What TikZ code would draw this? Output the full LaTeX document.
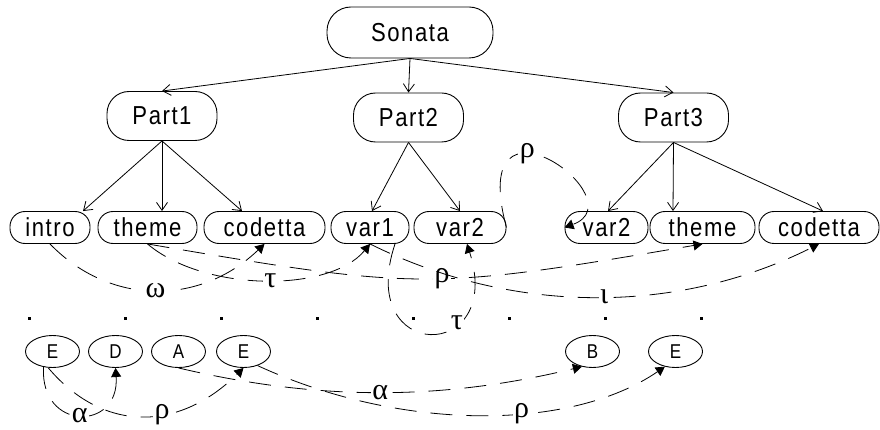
\documentclass[tikz,border=0pt]{standalone}
\usepackage{fontspec}
\setmainfont{Liberation Sans}[FakeStretch=0.85,LetterSpace=6]
\newfontfamily\greekfont{Liberation Serif}
\usetikzlibrary{arrows.meta,shapes.geometric}

\begin{document}
\begin{tikzpicture}[x=1pt,y=-1pt,
  every node/.style={inner sep=0pt},
  pillbox/.style={draw,rectangle,line width=0.9pt,font=\fontsize{26}{30}\selectfont},
  topbox/.style={pillbox,minimum width=166pt,minimum height=51pt,rounded corners=24pt},
  partbox/.style={pillbox,minimum width=110pt,minimum height=49pt,rounded corners=22pt},
  leafbox/.style={pillbox,minimum height=32pt,rounded corners=15pt,minimum width=#1},
  notebox/.style={draw,ellipse,line width=0.9pt,minimum width=54pt,minimum height=32pt,
    font=\fontsize{20}{22}\selectfont},
  treearrow/.style={line width=0.8pt,-{Straight Barb[length=8pt,width=11pt]}},
  rel/.style={line width=0.8pt,dash pattern=on 22pt off 14pt,
    -{Triangle[length=9pt,width=10pt]}},
  lbl/.style={fill=white,inner sep=1.5pt,font=\greekfont\fontsize{30}{32}\selectfont}]

\useasboundingbox (0,0) rectangle (880,430);

% hierarchy
\node[topbox] (sonata) at (410,32.5) {Sonata};
\node[partbox] (part1) at (162,116) {Part1};
\node[partbox] (part2) at (408.5,117.5) {Part2};
\node[partbox] (part3) at (673.5,117.5) {Part3};

\node[leafbox=80pt]  (intro)    at (50,227.5)  {intro};
\node[leafbox=99pt]  (theme1)   at (147.5,227.5) {theme};
\node[leafbox=121pt] (codetta1) at (264.5,227.5) {codetta};
\node[leafbox=78pt]  (var1)     at (370,227.5) {var1};
\node[leafbox=92pt]  (var2a)    at (460,227.5) {var2};
\node[leafbox=83pt]  (var2b)    at (606.5,227.5) {var2};
\node[leafbox=105pt] (theme2)   at (702.5,227.5) {theme};
\node[leafbox=120pt] (codetta3) at (819,227.5) {codetta};

\draw[treearrow] (sonata.south) -- (part1.north);
\draw[treearrow] (sonata.south) -- (part2.north);
\draw[treearrow] (sonata.south) -- (part3.north);

\draw[treearrow] (part1.south) -- ([xshift=33pt]intro.north);
\draw[treearrow] (part1.south) -- ([xshift=14.5pt]theme1.north);
\draw[treearrow] (part1.south) -- ([xshift=-22.5pt]codetta1.north);
\draw[treearrow] (part2.south) -- ([xshift=2pt]var1.north);
\draw[treearrow] (part2.south) -- (var2a.north);
\draw[treearrow] (part3.south) -- ([xshift=1.5pt]var2b.north);
\draw[treearrow] (part3.south) -- ([xshift=-29.5pt]theme2.north);
\draw[treearrow] (part3.south) -- ([xshift=4pt]codetta3.north);

% relations between the parts
\draw[rel] (intro.south) .. controls +(60,62) and +(-65,62) .. (codetta1.south)
  node[lbl,pos=.5] {ω};
\draw[rel] (theme1.south) .. controls +(57.5,48.5) and +(-40,48.5) .. (var1.south)
  node[lbl,pos=.52] {τ};
\draw[rel] (theme1.south) .. controls +(272.5,46.5) and +(-272.5,46.5) .. (theme2.south)
  node[lbl,pos=.54] {ρ};
\draw[rel] (var1.south) .. controls +(143,71) and +(-142,71) .. (codetta3.south)
  node[lbl,pos=.52] {ι};
\draw[rel] ([xshift=25pt]var1.south) .. controls +(-40,119.5) and +(38,119.5) .. ([xshift=7pt]var2a.south)
  node[lbl,pos=.67] {τ};
\draw[rel] (var2a.east) .. controls +(-41,-152.5) and +(75,-27.5) .. (var2b.west)
  node[lbl,pos=.38] {ρ};

% time grid
\foreach \i in {0,...,7}
  \fill ({28+96*\i},316.5) rectangle +(3,3);

% notes
\node[notebox] (e1) at (52.5,351.5) {E};
\node[notebox] (d)  at (115.5,351.5) {D};
\node[notebox] (a)  at (178.5,351.5) {A};
\node[notebox] (e2) at (243.5,351.5) {E};
\node[notebox] (b)  at (592.5,351.5) {B};
\node[notebox] (e3) at (675.5,351.5) {E};

\draw[rel] (e1.240) .. controls +(-3.8,64.3) and +(4.5,63.5) .. (d.south)
  node[lbl,pos=.5] {α};
\draw[rel] (e1.255) .. controls +(54.7,64.7) and +(-65.5,64.5) .. (e2.south)
  node[lbl,pos=.6] {ρ};
\draw[rel] (a.south) .. controls +(140,33) and +(-140,34) .. (b.235)
  node[lbl,pos=.5] {α};
\draw[rel] (e2.315) .. controls +(142.7,65.7) and +(-95,65) .. (e3.235)
  node[lbl,pos=.6] {ρ};

\end{tikzpicture}
\end{document}
